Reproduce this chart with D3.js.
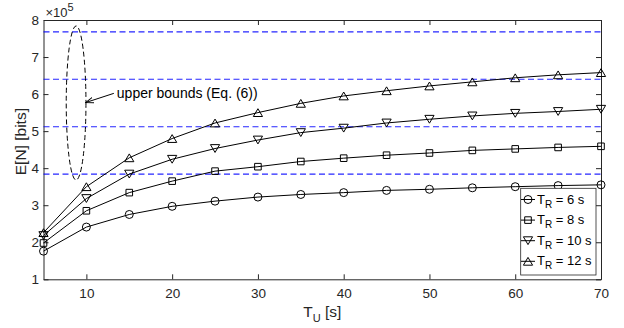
<!DOCTYPE html>
<html>
<head>
<meta charset="utf-8">
<script src="https://cdn.jsdelivr.net/npm/d3@7"></script>
<style>
  html, body { margin: 0; padding: 0; background: #fff; }
  svg { display: block; font-family: "Liberation Sans", Arial, Helvetica, sans-serif; }
</style>
</head>
<body>
<svg id="chart" width="624" height="328"></svg>
<script>
// Update interval T_U in seconds
const tU = [5, 10, 15, 20, 25, 30, 35, 40, 45, 50, 55, 60, 65, 70];

// Expected number of bits E[N] (x 1e5) for each reporting time T_R
const en6  = [1.76, 2.41, 2.75, 2.97, 3.11, 3.22, 3.29, 3.34, 3.40, 3.43, 3.47, 3.50, 3.53, 3.55];
const en8  = [1.98, 2.85, 3.34, 3.65, 3.92, 4.04, 4.18, 4.27, 4.35, 4.41, 4.48, 4.52, 4.56, 4.59];
const en10 = [2.18, 3.18, 3.84, 4.24, 4.53, 4.76, 4.96, 5.08, 5.22, 5.32, 5.41, 5.48, 5.53, 5.59];
const en12 = [2.26, 3.50, 4.28, 4.80, 5.22, 5.50, 5.75, 5.95, 6.09, 6.22, 6.33, 6.44, 6.52, 6.58];

// Upper bounds from Eq. (6), one per T_R (x 1e5)
const upperBounds = [3.84, 5.12, 6.40, 7.68];

const seriesLabels = ["6", "8", "10", "12"];
const seriesMarkers = ["circle", "square", "down", "up"];

const xTicks = [10, 20, 30, 40, 50, 60, 70];
const yTicks = [1, 2, 3, 4, 5, 6, 7, 8];

const series = [en6, en8, en10, en12].map((vals, i) => ({
  label: seriesLabels[i],
  marker: seriesMarkers[i],
  points: tU.map((t, j) => ({ x: t, y: vals[j] }))
}));

const svg = d3.select("#chart");
const plotLeft = 43.5, plotRight = 601, plotTop = 20, plotBottom = 279.3;
const axisColor = "#262626";

const x = d3.scaleLinear().domain([5, 70]).range([plotLeft, plotRight]);
const y = d3.scaleLinear().domain([1, 8]).range([plotBottom, plotTop]);

// Marker shapes
function markerPath(type) {
  if (type === "circle") return d3.symbol().type(d3.symbolCircle).size(Math.PI * 4 * 4)();
  if (type === "square") { const s = 3.3; return `M${-s},${-s}H${s}V${s}H${-s}Z`; }
  if (type === "up")   { const w = 4.6, h = 3.9; return `M0,${-h}L${w},${h}L${-w},${h}Z`; }
  if (type === "down") { const w = 4.6, h = 3.9; return `M0,${h}L${w},${-h}L${-w},${-h}Z`; }
}

// Axes (ticks point inwards on all four sides)
const gx = svg.append("g").attr("transform", `translate(0,${plotBottom})`)
  .call(d3.axisBottom(x).tickValues(xTicks).tickFormat(d3.format("d"))
    .tickSize(-5).tickSizeOuter(0).tickPadding(9));
const gxt = svg.append("g").attr("transform", `translate(0,${plotTop})`)
  .call(d3.axisTop(x).tickValues(xTicks).tickSize(-5).tickSizeOuter(0).tickFormat(""));
const gy = svg.append("g").attr("transform", `translate(${plotLeft},0)`)
  .call(d3.axisLeft(y).tickValues(yTicks).tickFormat(d3.format("d"))
    .tickSize(-5).tickSizeOuter(0).tickPadding(4.5));
const gyr = svg.append("g").attr("transform", `translate(${plotRight},0)`)
  .call(d3.axisRight(y).tickValues(yTicks).tickSize(-5).tickSizeOuter(0).tickFormat(""));

[gx, gxt, gy, gyr].forEach(g => {
  g.selectAll("path.domain").attr("stroke", axisColor).attr("stroke-width", 1);
  g.selectAll(".tick line").attr("stroke", axisColor).attr("stroke-width", 1);
  g.selectAll(".tick text").attr("fill", axisColor).attr("font-size", "13.5px")
    .attr("font-family", "'Liberation Sans', Arial, sans-serif");
});

// Exponent label
const expo = svg.append("text").attr("x", plotLeft + 2).attr("y", 17)
  .attr("fill", axisColor).attr("font-size", "13px");
expo.append("tspan").text("\u00d710");
expo.append("tspan").attr("font-size", "11px").attr("dy", -6).text("5");

// Upper-bound reference lines
svg.append("g").selectAll("line").data(upperBounds).join("line")
  .attr("x1", x(5)).attr("x2", x(70))
  .attr("y1", d => y(d)).attr("y2", d => y(d))
  .attr("stroke", "#0000ff").attr("stroke-width", 1.1)
  .attr("stroke-dasharray", "6,3.5").attr("opacity", 0.85);

// Series lines and markers
const line = d3.line().x(d => x(d.x)).y(d => y(d.y));
const gs = svg.append("g");
series.forEach(s => {
  gs.append("path").datum(s.points).attr("d", line)
    .attr("fill", "none").attr("stroke", "#000").attr("stroke-width", 1);
  gs.append("g").selectAll("path").data(s.points).join("path")
    .attr("transform", d => `translate(${x(d.x)},${y(d.y)})`)
    .attr("d", markerPath(s.marker))
    .attr("fill", "none").attr("stroke", "#000").attr("stroke-width", 1);
});

// Annotation: ellipse around the bounds, arrow and label
const ell = { cx: 8.8, cy: 5.76, rx: 1.15, ry: 2.08 };
svg.append("ellipse")
  .attr("cx", x(ell.cx)).attr("cy", y(ell.cy))
  .attr("rx", x(ell.cx + ell.rx) - x(ell.cx)).attr("ry", y(ell.cy) - y(ell.cy + ell.ry))
  .attr("fill", "none").attr("stroke", "#000").attr("stroke-width", 1)
  .attr("stroke-dasharray", "5,3");

svg.append("defs").append("marker")
  .attr("id", "arrowHead").attr("viewBox", "0 0 10 10").attr("refX", 10).attr("refY", 5)
  .attr("markerWidth", 8).attr("markerHeight", 8).attr("markerUnits", "userSpaceOnUse")
  .attr("orient", "auto")
  .append("path").attr("d", "M0,1.5L10,5L0,8.5").attr("fill", "none").attr("stroke", "#000").attr("stroke-width", 1.2);

svg.append("line")
  .attr("x1", x(13.2)).attr("y1", y(6.02))
  .attr("x2", x(9.9)).attr("y2", y(5.77))
  .attr("stroke", "#000").attr("stroke-width", 1)
  .attr("marker-end", "url(#arrowHead)");

svg.append("text").attr("x", x(13.55)).attr("y", y(6.0))
  .attr("dominant-baseline", "middle").attr("font-size", "14px").attr("fill", "#000")
  .text("upper bounds (Eq. (6))");

// Axis titles
const xt = svg.append("text").attr("x", (plotLeft + plotRight) / 2).attr("y", 316.5)
  .attr("text-anchor", "middle").attr("font-size", "15.5px").attr("fill", axisColor);
xt.append("tspan").text("T");
xt.append("tspan").attr("font-size", "11px").attr("dy", 5).text("U");
xt.append("tspan").attr("dy", -5).text(" [s]");

svg.append("text").attr("transform", `translate(26,${(plotTop + plotBottom) / 2 - 8}) rotate(-90)`)
  .attr("text-anchor", "middle").attr("font-size", "15.5px").attr("fill", axisColor)
  .text("E[N] [bits]");

// Legend
const lg = svg.append("g");
lg.append("rect").attr("x", 520.7).attr("y", 188.3).attr("width", 75.3).attr("height", 86.7)
  .attr("fill", "#fff").attr("stroke", axisColor).attr("stroke-width", 0.8);
series.forEach((s, i) => {
  const ly = 199.5 + i * 20.6;
  const row = lg.append("g").attr("transform", `translate(0,${ly})`);
  row.append("line").attr("x1", 521).attr("x2", 535).attr("y1", 0).attr("y2", 0)
    .attr("stroke", "#000").attr("stroke-width", 1);
  row.append("path").attr("transform", "translate(528,0)").attr("d", markerPath(s.marker))
    .attr("fill", "none").attr("stroke", "#000").attr("stroke-width", 1);
  const t = row.append("text").attr("x", 537).attr("y", 4).attr("font-size", "13px").attr("fill", "#000");
  t.append("tspan").text("T");
  t.append("tspan").attr("font-size", "10px").attr("dy", 4).text("R");
  t.append("tspan").attr("dy", -4).text(" = " + s.label + " s");
});
</script>
</body>
</html>
